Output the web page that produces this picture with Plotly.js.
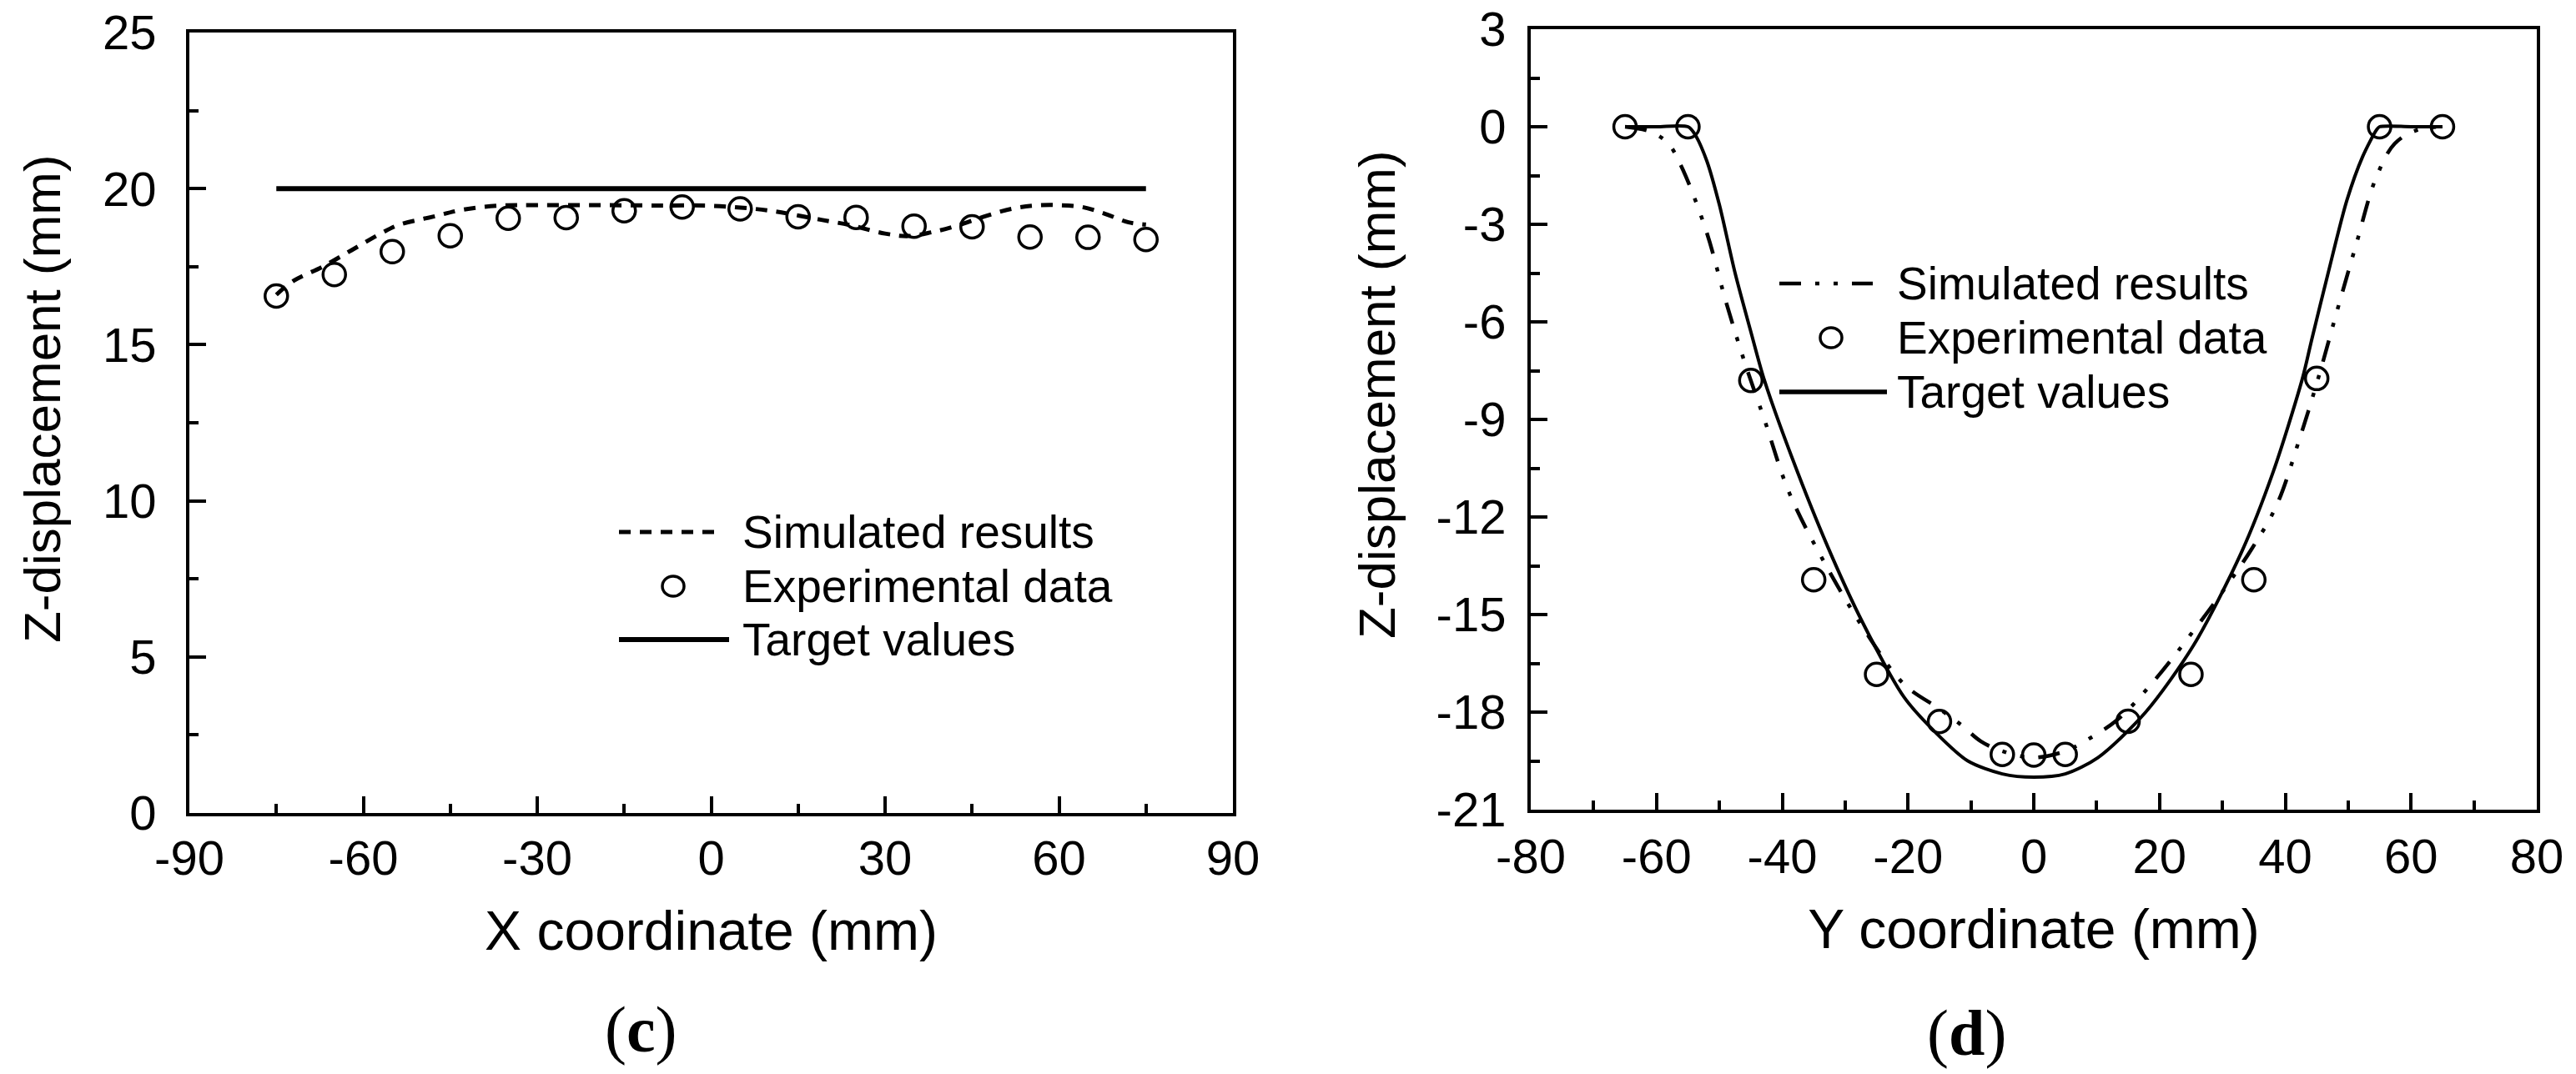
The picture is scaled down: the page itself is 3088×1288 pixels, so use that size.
<!DOCTYPE html>
<html>
<head>
<meta charset="utf-8">
<script src="https://cdn.plot.ly/plotly-3.0.1.min.js"></script>
<style>
html,body{margin:0;padding:0;background:#fff;}
#chart{width:3088px;height:1288px;}
</style>
</head>
<body>
<div id="chart"></div>
<script>
// ---------- Panel (c): X direction ----------
const xSimC = [-75,-72,-67,-62,-57,-54,-48,-43,-37,-30,-20,-10,0,7,11,19,24,30,34,38,42,47,52,56,60,64,68,72,75];
const zSimC = [16.6,17.05,17.5,18.03,18.56,18.83,19.1,19.32,19.45,19.47,19.47,19.46,19.45,19.36,19.27,19.0,18.83,18.56,18.48,18.6,18.79,19.1,19.36,19.46,19.47,19.41,19.19,18.92,18.85];
const xExpC = [-75,-65,-55,-45,-35,-25,-15,-5,5,15,25,35,45,55,65,75];
const zExpC = [16.56,17.25,17.98,18.49,19.05,19.07,19.29,19.41,19.35,19.1,19.08,18.8,18.78,18.45,18.44,18.37];
const xTgtC = [-75,75];
const zTgtC = [20,20];

// ---------- Panel (d): Y direction ----------
const ySimD = [-65,-61,-58.2,-56.1,-52.1,-49,-46,-42.9,-38.9,-33.3,-26.7,-20.6,-15,-11.5,-8.4,-5,0,5,7.6,13.2,19.3,25.4,30,34.6,38.6,42.2,45.2,48.3,51.3,54.4,57.4,61,65];
const zSimD = [0,-0.15,-0.5,-1.2,-3.2,-5.35,-7.23,-8.97,-11.25,-13.4,-15.54,-17.15,-17.9,-18.4,-18.9,-19.2,-19.4,-19.2,-18.95,-18.25,-17.0,-15.5,-14.3,-13.0,-11.65,-9.64,-7.76,-5.62,-3.6,-1.59,-0.52,-0.1,0];
const yExpD = [-65,-55,-45,-35,-25,-15,-5,0,5,15,25,35,45,55,65];
const zExpD = [0,0,-7.8,-13.93,-16.84,-18.29,-19.3,-19.32,-19.3,-18.28,-16.84,-13.93,-7.74,0,0];
const yTgtD = [-65,-60,-55,-54,-52,-50,-47.5,-45,-42.9,-38.4,-32.8,-27.2,-20.6,-15.5,-10.5,-5,0,5,10.2,17.8,25.4,33,38.1,42.7,44.2,46.75,49.8,52.3,54.5,55,60,65];
const zTgtD = [0,0,0,-0.2,-1.05,-2.4,-4.5,-6.3,-7.76,-10.2,-12.9,-15.25,-17.55,-18.65,-19.5,-19.9,-20,-19.9,-19.4,-18.0,-15.95,-13.1,-10.6,-7.76,-6.55,-4.55,-2.26,-0.92,-0.1,0,0,0];

// ---------- Ticks ----------
const xTicksC = [-90,-60,-30,0,30,60,90];
const xMinorC = [-75,-45,-15,15,45,75];
const yTicksC = [0,5,10,15,20,25];
const yMinorC = [2.5,7.5,12.5,17.5,22.5];
const xTicksD = [-80,-60,-40,-20,0,20,40,60,80];
const xMinorD = [-70,-50,-30,-10,10,30,50,70];
const yTicksD = [-21,-18,-15,-12,-9,-6,-3,0,3];
const yMinorD = [-19.5,-16.5,-13.5,-10.5,-7.5,-4.5,-1.5,1.5];

const legendLabels = ['Simulated results','Experimental data','Target values'];

// ---------- Geometry helpers ----------
const W = 3088, H = 1288;
const px = x => x / W;
const py = y => 1 - y / H;
const FONT = 'Arial, "Liberation Sans", sans-serif';
const SERIF = '"Times New Roman", "Liberation Serif", serif';

function axisBase(extra) {
  return Object.assign({
    showline: true, linecolor: '#000', linewidth: 4, mirror: true,
    ticks: 'inside', ticklen: 20, tickwidth: 4, tickcolor: '#000',
    tickmode: 'array',
    tickfont: {family: FONT, size: 58, color: '#000'},
    showgrid: false, zeroline: false, fixedrange: true
  }, extra);
}
function minor(vals) {
  return {tickmode: 'array', tickvals: vals, ticks: 'inside', ticklen: 11, tickwidth: 4, tickcolor: '#000', showgrid: false};
}

const traces = [
  {x: xSimC, y: zSimC, xaxis: 'x', yaxis: 'y', mode: 'lines', name: legendLabels[0],
   line: {color: '#000', width: 5, dash: '14px,11px', shape: 'spline', smoothing: 1}},
  {x: xExpC, y: zExpC, xaxis: 'x', yaxis: 'y', mode: 'markers', name: legendLabels[1],
   marker: {symbol: 'circle-open', size: 27, color: '#000', line: {width: 3.5, color: '#000'}}},
  {x: xTgtC, y: zTgtC, xaxis: 'x', yaxis: 'y', mode: 'lines', name: legendLabels[2],
   line: {color: '#000', width: 6}},
  {x: ySimD, y: zSimD, xaxis: 'x2', yaxis: 'y2', mode: 'lines', name: legendLabels[0],
   line: {color: '#000', width: 4.5, dash: '26px,17px,5px,17px,5px,17px', shape: 'spline', smoothing: 1}},
  {x: yExpD, y: zExpD, xaxis: 'x2', yaxis: 'y2', mode: 'markers', name: legendLabels[1],
   marker: {symbol: 'circle-open', size: 27, color: '#000', line: {width: 3.5, color: '#000'}}},
  {x: yTgtD, y: zTgtD, xaxis: 'x2', yaxis: 'y2', mode: 'lines', name: legendLabels[2],
   line: {color: '#000', width: 4, shape: 'spline', smoothing: 0.8}}
];

// Custom legends (drawn in paper space)
function legendBlock(x0, x1, xMark, xText, rows, dash, dashW, solidX1) {
  const shapes = [
    {type: 'line', xref: 'paper', yref: 'paper', x0: px(x0), x1: px(x1), y0: py(rows[0]), y1: py(rows[0]),
     line: {color: '#000', width: dashW, dash: dash}},
    {type: 'circle', xref: 'paper', yref: 'paper', xsizemode: 'pixel', ysizemode: 'pixel',
     xanchor: px(xMark), yanchor: py(rows[1]), x0: -13, x1: 13, y0: -12, y1: 12,
     line: {color: '#000', width: 3.5}},
    {type: 'line', xref: 'paper', yref: 'paper', x0: px(x0), x1: px(solidX1), y0: py(rows[2]), y1: py(rows[2]),
     line: {color: '#000', width: dashW + 1}}
  ];
  const anns = legendLabels.map((t, i) => ({
    text: t, xref: 'paper', yref: 'paper', x: px(xText), y: py(rows[i]),
    xanchor: 'left', yanchor: 'middle', showarrow: false,
    font: {family: FONT, size: 55, color: '#000'}
  }));
  return {shapes, anns};
}
const legC = legendBlock(742, 865, 807, 888, [638, 703, 767], '14px,11px', 5, 874);
const legD = legendBlock(2133, 2245, 2195, 2272, [340, 405, 470], '26px,17px,5px,17px,5px,17px', 4.5, 2262);

const annotations = [
  ...legC.anns, ...legD.anns,
  {text: 'Z-displacement (mm)', xref: 'paper', yref: 'paper', x: px(50), y: py(478), textangle: -90,
   xanchor: 'center', yanchor: 'middle', showarrow: false, font: {family: FONT, size: 62, color: '#000'}},
  {text: 'Z-displacement (mm)', xref: 'paper', yref: 'paper', x: px(1650), y: py(473), textangle: -90,
   xanchor: 'center', yanchor: 'middle', showarrow: false, font: {family: FONT, size: 62, color: '#000'}},
  {text: '(<b>c</b>)', xref: 'paper', yref: 'paper', x: px(768), y: py(1234),
   xanchor: 'center', yanchor: 'middle', showarrow: false, font: {family: SERIF, size: 78, color: '#000'}},
  {text: '(<b>d</b>)', xref: 'paper', yref: 'paper', x: px(2357), y: py(1238),
   xanchor: 'center', yanchor: 'middle', showarrow: false, font: {family: SERIF, size: 78, color: '#000'}}
];

const layout = {
  width: W, height: H, autosize: false,
  margin: {l: 0, r: 0, t: 0, b: 0, pad: 0},
  paper_bgcolor: '#fff', plot_bgcolor: '#fff',
  showlegend: false,
  font: {family: FONT, color: '#000'},
  xaxis: axisBase({domain: [px(227), px(1478)], range: [-90, 90], anchor: 'y',
    tickvals: xTicksC, ticktext: xTicksC.map(String), ticklabelstandoff: 0, minor: minor(xMinorC),
    title: {text: 'X coordinate (mm)', font: {family: FONT, size: 66, color: '#000'}, standoff: 34}}),
  yaxis: axisBase({domain: [py(975), py(39)], range: [0, 25], anchor: 'x',
    tickvals: yTicksC, ticktext: yTicksC.map(String), ticklabelstandoff: 24, minor: minor(yMinorC)}),
  xaxis2: axisBase({domain: [px(1835), px(3041)], range: [-80, 80], anchor: 'y2',
    tickvals: xTicksD, ticktext: xTicksD.map(String), ticklabelstandoff: 2, minor: minor(xMinorD),
    title: {text: 'Y coordinate (mm)', font: {family: FONT, size: 66, color: '#000'}, standoff: 34}}),
  yaxis2: axisBase({domain: [py(971), py(35)], range: [-21, 3], anchor: 'x2',
    tickvals: yTicksD, ticktext: yTicksD.map(String), ticklabelstandoff: 14, minor: minor(yMinorD)}),
  shapes: [...legC.shapes, ...legD.shapes],
  annotations: annotations
};

Plotly.newPlot('chart', traces, layout, {staticPlot: true, displayModeBar: false});
</script>
</body>
</html>
